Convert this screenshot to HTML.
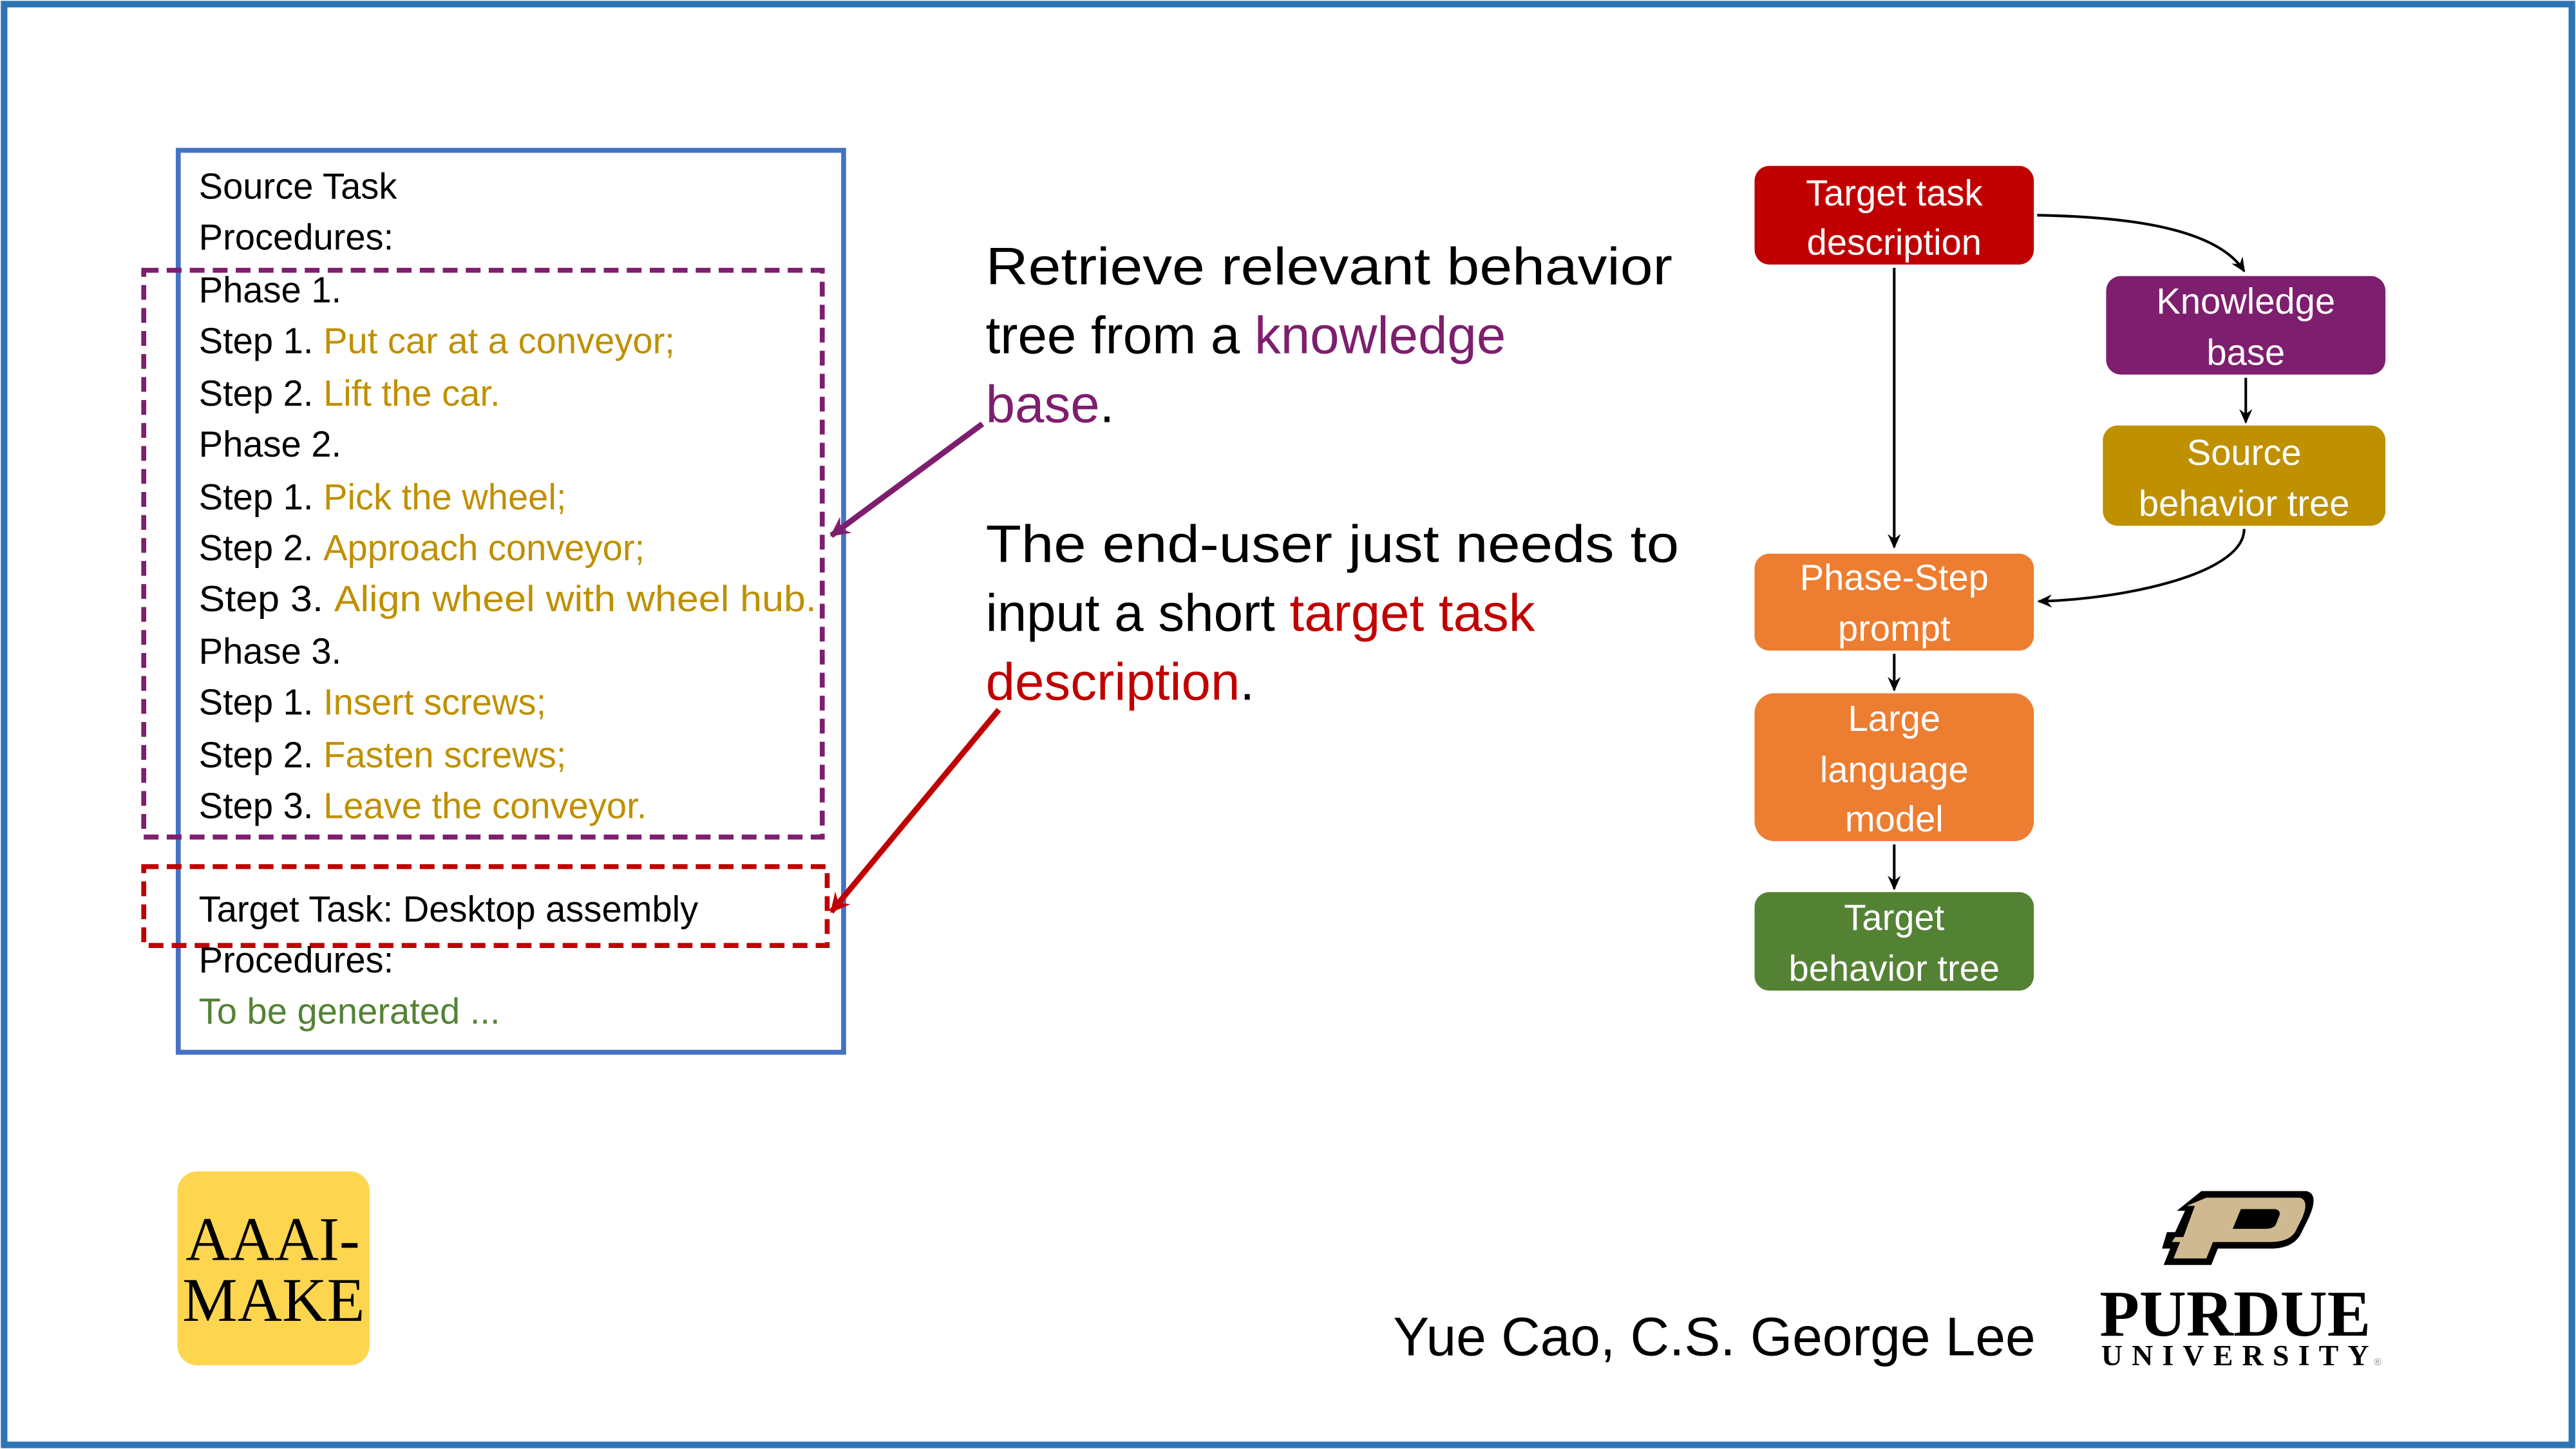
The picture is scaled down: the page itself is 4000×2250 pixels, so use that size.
<!DOCTYPE html>
<html><head><meta charset="utf-8"><style>
html,body{margin:0;padding:0;background:#fff;}
svg{display:block;}
text{font-family:"Liberation Sans",sans-serif;}
text.serif{font-family:"Liberation Serif",serif;}
</style></head><body>
<svg width="4000" height="2250" viewBox="0 0 1568 882" xmlns="http://www.w3.org/2000/svg">
<defs>
<marker id="ak" markerWidth="10" markerHeight="10" refX="8" refY="5" orient="auto" markerUnits="userSpaceOnUse"><path d="M0,1 L9,5 L0,9 L3,5 z" fill="#000"/></marker>
<marker id="ap" markerWidth="14" markerHeight="14" refX="11" refY="7" orient="auto" markerUnits="userSpaceOnUse"><path d="M0,1 L12,7 L0,13 L4,7 z" fill="#7e1e6e"/></marker>
<marker id="ar" markerWidth="14" markerHeight="14" refX="11" refY="7" orient="auto" markerUnits="userSpaceOnUse"><path d="M0,1 L12,7 L0,13 L4,7 z" fill="#c00000"/></marker>
</defs>
<rect x="0" y="0" width="1568" height="882" fill="#fff"/>
<rect x="2.5" y="2.5" width="1563" height="877" fill="none" stroke="#2e75b6" stroke-width="4"/>

<rect x="108.5" y="91.5" width="405" height="549" fill="none" stroke="#4472c4" stroke-width="3"/>
<rect x="87.5" y="164.5" width="413" height="345" fill="none" stroke="#7e1e6e" stroke-width="3" stroke-dasharray="9,5"/>
<rect x="87.5" y="527.5" width="416" height="48" fill="none" stroke="#c00000" stroke-width="3" stroke-dasharray="9,5"/>

<g font-size="22" fill="#000">
<text x="121" y="121">Source Task</text>
<text x="121" y="152">Procedures:</text>
<text x="121" y="184">Phase 1.</text>
<text x="121" y="215">Step 1. <tspan fill="#bf9000">Put car at a conveyor;</tspan></text>
<text x="121" y="247">Step 2. <tspan fill="#bf9000">Lift the car.</tspan></text>
<text x="121" y="278">Phase 2.</text>
<text x="121" y="310">Step 1. <tspan fill="#bf9000">Pick the wheel;</tspan></text>
<text x="121" y="341">Step 2. <tspan fill="#bf9000">Approach conveyor;</tspan></text>
<text x="121" y="372" textLength="376" lengthAdjust="spacingAndGlyphs">Step 3. <tspan fill="#bf9000">Align wheel with wheel hub.</tspan></text>
<text x="121" y="404">Phase 3.</text>
<text x="121" y="435">Step 1. <tspan fill="#bf9000">Insert screws;</tspan></text>
<text x="121" y="467">Step 2. <tspan fill="#bf9000">Fasten screws;</tspan></text>
<text x="121" y="498">Step 3. <tspan fill="#bf9000">Leave the conveyor.</tspan></text>
<text x="121" y="561">Target Task: Desktop assembly</text>
<text x="121" y="592">Procedures:</text>
<text x="121" y="623" fill="#548235">To be generated ...</text>
</g>

<g font-size="32" fill="#000">
<text x="600" y="173" textLength="418" lengthAdjust="spacingAndGlyphs">Retrieve relevant behavior</text>
<text x="600" y="215">tree from a <tspan fill="#7e1e6e">knowledge</tspan></text>
<text x="600" y="257"><tspan fill="#7e1e6e">base</tspan>.</text>
<text x="600" y="342" textLength="422" lengthAdjust="spacingAndGlyphs">The end-user just needs to</text>
<text x="600" y="384">input a short <tspan fill="#c00000">target task</tspan></text>
<text x="600" y="426"><tspan fill="#c00000">description</tspan>.</text>
</g>
<line x1="598" y1="258" x2="506" y2="326" stroke="#7e1e6e" stroke-width="3.5" marker-end="url(#ap)"/>
<line x1="608" y1="432" x2="506" y2="555" stroke="#c00000" stroke-width="3.5" marker-end="url(#ar)"/>

<g font-size="22" fill="#fff" text-anchor="middle">
<rect x="1068" y="101" width="170" height="60" rx="9" fill="#c00000"/>
<text x="1153" y="125">Target task</text><text x="1153" y="155">description</text>
<rect x="1282" y="168" width="170" height="60" rx="9" fill="#7e1e6e"/>
<text x="1367" y="191">Knowledge</text><text x="1367" y="222">base</text>
<rect x="1280" y="259" width="172" height="61" rx="9" fill="#bf9000"/>
<text x="1366" y="283">Source</text><text x="1366" y="314">behavior tree</text>
<rect x="1068" y="337" width="170" height="59" rx="9" fill="#ed7d31"/>
<text x="1153" y="359">Phase-Step</text><text x="1153" y="390">prompt</text>
<rect x="1068" y="422" width="170" height="90" rx="12" fill="#ed7d31"/>
<text x="1153" y="445">Large</text><text x="1153" y="476">language</text><text x="1153" y="506">model</text>
<rect x="1068" y="543" width="170" height="60" rx="9" fill="#548235"/>
<text x="1153" y="566">Target</text><text x="1153" y="597">behavior tree</text>
</g>
<g fill="none" stroke="#000" stroke-width="1.6">
<line x1="1153" y1="163" x2="1153" y2="333" marker-end="url(#ak)"/>
<path d="M1240,131 C1300,132 1350,140 1366,165" marker-end="url(#ak)"/>
<line x1="1367" y1="230" x2="1367" y2="257" marker-end="url(#ak)"/>
<path d="M1366,322 C1366,350 1290,365 1241,366" marker-end="url(#ak)"/>
<line x1="1153" y1="398" x2="1153" y2="420" marker-end="url(#ak)"/>
<line x1="1153" y1="514" x2="1153" y2="541" marker-end="url(#ak)"/>
</g>

<rect x="108" y="713" width="117" height="118" rx="12" fill="#fdd54f"/>
<text class="serif" x="113" y="767" font-size="38" fill="#000" textLength="106" lengthAdjust="spacingAndGlyphs">AAAI-</text>
<text class="serif" x="111" y="804" font-size="38" fill="#000" textLength="111" lengthAdjust="spacingAndGlyphs">MAKE</text>

<text x="848" y="825" font-size="33" fill="#000" textLength="391" lengthAdjust="spacingAndGlyphs">Yue Cao, C.S. George Lee</text>

<path d="M1340,725 L1404,725 Q1412,727 1405,742 L1400,752 Q1395,760 1382,760 L1350,760 L1346,770 L1317,770 L1321,760 L1316,760 L1319,750 L1324,750 L1330,737 L1325,737 Z" fill="#000"/>
<path d="M1343,729 L1400,729 Q1406,731 1401,742 L1397,750 Q1393,756 1382,756 L1347,756 L1343,766 L1323,766 L1327,756 L1322,756 L1324,753 L1329,753 L1336,734 L1331,734 Z" fill="#cfb991"/>
<path d="M1364,736 L1385,736 Q1389,737 1387,741 L1385,746 Q1383,748 1379,748 L1359,748 Z" fill="#000"/>
<text class="serif" x="1278" y="813" font-size="40" font-weight="bold" fill="#000" textLength="165" lengthAdjust="spacingAndGlyphs">PURDUE</text>
<text class="serif" x="1279" y="831" font-size="18" font-weight="bold" fill="#000" textLength="163" lengthAdjust="spacing">UNIVERSITY</text>
<text x="1445" y="831" font-size="6" fill="#888">®</text>
</svg>
</body></html>
